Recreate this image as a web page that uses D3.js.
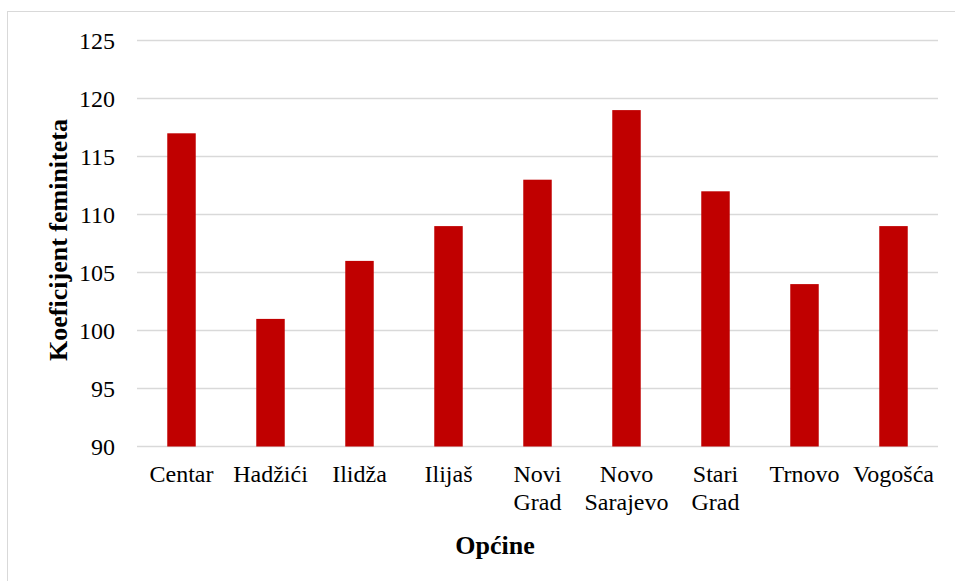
<!DOCTYPE html>
<html><head><meta charset="utf-8">
<script src="https://cdn.jsdelivr.net/npm/d3@7"></script>
<style>body{margin:0;background:#fff}svg{display:block}</style>
</head><body><svg width="955" height="581"></svg>
<script>
const categories = [["Centar"],["Hadžići"],["Ilidža"],["Ilijaš"],["Novi","Grad"],["Novo","Sarajevo"],["Stari","Grad"],["Trnovo"],["Vogošća"]];
const values = [117,101,106,109,113,119,112,104,109];
const yTicks = [90,95,100,105,110,115,120,125];
const yTitle = "Koeficijent feminiteta";
const xTitle = "Općine";

const FF = "'Liberation Serif', 'Times New Roman', 'DejaVu Serif', serif";
const svg = d3.select("svg").style("font-family",FF);
svg.append("rect").attr("x",7.5).attr("y",11.5).attr("width",960).attr("height",600).attr("fill","#fff").attr("stroke","#d9d9d9");
const L=137,R=938,T=40.5,B=446.5;
const names = categories.map(c=>c.join(" "));
const x = d3.scaleBand().domain(names).range([L,R]).padding(0);
const y = d3.scaleLinear().domain([90,125]).range([B,T]);
svg.append("g").selectAll("line").data(yTicks).join("line")
  .attr("x1",L).attr("x2",R).attr("y1",d=>y(d)).attr("y2",d=>y(d))
  .attr("stroke","#d9d9d9").attr("stroke-width",1.5);
svg.append("g").selectAll("text").data(yTicks).join("text")
  .attr("x",115).attr("y",d=>y(d)+8).attr("text-anchor","end").attr("font-size",24).text(d=>d);
const bw = x.bandwidth()*0.32;
svg.append("g").selectAll("rect").data(values).join("rect")
  .attr("x",(d,i)=>x(names[i])+x.bandwidth()/2-bw/2).attr("width",bw)
  .attr("y",d=>y(d)).attr("height",d=>B-y(d)).attr("fill","#c00000");
const lab = svg.append("g").selectAll("text").data(categories).join("text")
  .attr("x",(d,i)=>x(names[i])+x.bandwidth()/2).attr("y",482).attr("text-anchor","middle").attr("font-size",24);
lab.selectAll("tspan").data(d=>d).join("tspan").attr("x",function(){return this.parentNode.getAttribute("x");})
  .attr("dy",(d,i)=>i?27.5:0).text(d=>d);
svg.append("text").attr("x",495).attr("y",554).attr("text-anchor","middle").attr("font-size",26).attr("font-weight","bold").text(xTitle);
svg.append("text").attr("transform","translate(67,240) rotate(-90)").attr("text-anchor","middle").attr("font-size",26).attr("font-weight","bold").text(yTitle);
</script></body></html>
